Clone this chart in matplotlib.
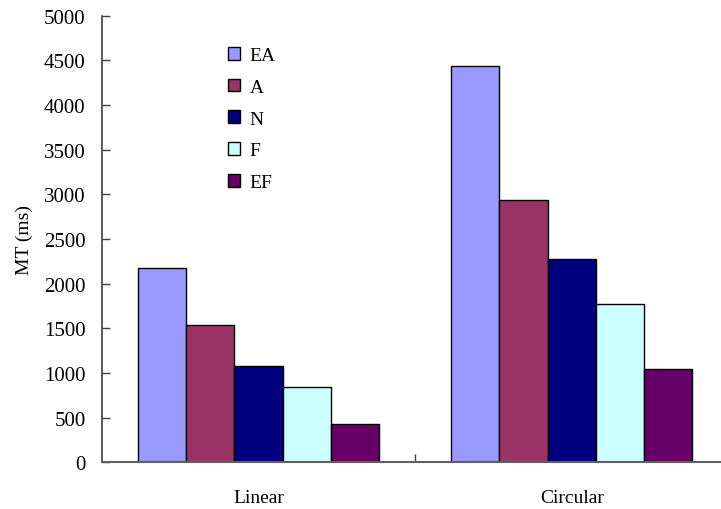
import matplotlib
matplotlib.use("Agg")
import matplotlib.pyplot as plt
from matplotlib.patches import Patch
import numpy as np

plt.rcParams['font.family'] = ['Liberation Serif', 'DejaVu Serif']

categories = ["Linear", "Circular"]
series_names = ["EA", "A", "N", "F", "EF"]
ea = [2170, 4436]
a = [1532, 2937]
n = [1077, 2277]
f = [842, 1771]
ef = [428, 1044]
series_values = [ea, a, n, f, ef]
colors = ["#9999FF", "#993366", "#000080", "#CCFFFF", "#660066"]
y_ticks = list(range(0, 5001, 500))

fig = plt.figure(figsize=(7.21, 5.10), dpi=100)
ax = fig.add_axes([101.7 / 721, 46.7 / 510, 1 - 101.7 / 721, 446.8 / 510])

x = np.arange(len(categories))
width = 0.154
offsets = (np.arange(len(series_names)) - 2) * width
for name, vals, col, off in zip(series_names, series_values, colors, offsets):
    ax.bar(x + off, vals, width=width, color=col, edgecolor="black",
           linewidth=1.0, label=name, zorder=2)

ax.set_xlim(-0.5, 1 + (721 - 571.7) / 313.7)
ax.set_ylim(0, 5000)
ax.set_yticks(y_ticks)
ax.set_yticklabels([str(v) for v in y_ticks], fontsize=15)
ax.tick_params(axis="y", direction="in", length=6, width=1, pad=11.5,
               color="#404040")

ax.set_xticks(x)
ax.set_xticklabels(categories, fontsize=14)
ax.tick_params(axis="x", which="major", length=0, pad=19)
ax.set_xticks([0.5], minor=True)
ax.tick_params(axis="x", which="minor", direction="in", length=6, width=1,
               color="#404040")

for side in ["top", "right"]:
    ax.spines[side].set_visible(False)
ax.spines["left"].set_color("#404040")
ax.spines["bottom"].set_color("#606060")
ax.spines["left"].set_linewidth(1.2)
ax.spines["bottom"].set_linewidth(1.5)

ax.set_ylabel("MT (ms)", fontsize=14, labelpad=8)

handles = [Patch(facecolor=c, edgecolor="black", linewidth=1.0) for c in colors]
leg = ax.legend(handles, series_names, loc="upper left",
                bbox_to_anchor=(228 / 721, 1 - 48 / 510),
                bbox_transform=fig.transFigure, frameon=False,
                fontsize=14, handlelength=0.62, handleheight=0.62,
                handletextpad=0.5, labelspacing=0.75, borderpad=0,
                borderaxespad=0)

fig.savefig("out.png", dpi=100)
